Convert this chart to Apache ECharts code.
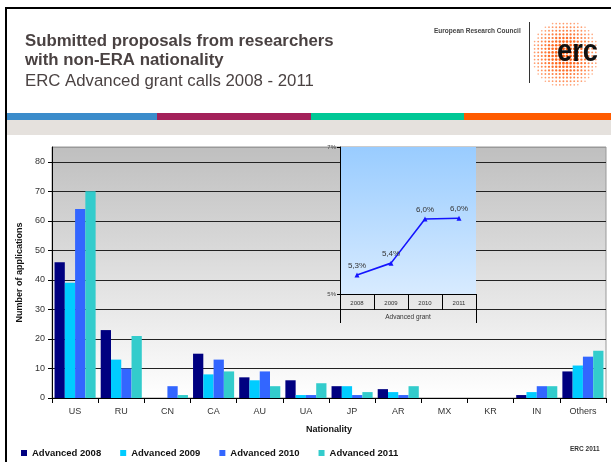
<!DOCTYPE html>
<html>
<head>
<meta charset="utf-8">
<script src="https://cdn.jsdelivr.net/npm/echarts@6/dist/echarts.min.js"></script>
<style>
html,body{margin:0;padding:0;background:#fff;}
#chart{width:611px;height:462px;}
</style>
</head>
<body>
<div id="chart"></div>
<script>
// ---- Data ----
var categories = ['US','RU','CN','CA','AU','UA','JP','AR','MX','KR','IN','Others'];
var seriesNames = ['Advanced 2008','Advanced 2009','Advanced 2010','Advanced 2011'];
var adv2008 = [46, 23, 0, 15, 7, 6, 4, 3, 0, 0, 1, 9];
var adv2009 = [39, 13, 0, 8, 6, 1, 4, 2, 0, 0, 2, 11];
var adv2010 = [64, 10, 4, 13, 9, 1, 1, 1, 0, 0, 4, 14];
var adv2011 = [70, 21, 1, 9, 4, 5, 2, 4, 0, 0, 4, 16];
var insetYears = ['2008','2009','2010','2011'];
var insetGroup = ['Advanced grant'];
var insetShare = [5.26, 5.42, 6.02, 6.03];
var barColors = ['#000080','#00ccff','#3366ff','#33cccc'];

var FONT = '"Liberation Sans", Arial, sans-serif';
var chart = echarts.init(document.getElementById('chart'), null, {renderer:'canvas'});

var barData = [adv2008, adv2009, adv2010, adv2011];
var series = barData.map(function(d, i){
  return {
    name: seriesNames[i], type: 'bar', xAxisIndex: 0, yAxisIndex: 0,
    data: d, barGap: '0%', barCategoryGap: '11%',
    itemStyle: {color: barColors[i]}, z: 2
  };
});
series.push({
  name: 'share', type: 'line', xAxisIndex: 1, yAxisIndex: 1,
  data: insetShare, z: 5,
  symbol: 'triangle', symbolSize: 5,
  lineStyle: {color: '#1414ff', width: 1.6},
  itemStyle: {color: '#1414ff'},
  label: {show: true, position: 'top', distance: 3, fontSize: 8, color: '#333', fontFamily: FONT,
    formatter: function(p){ return p.value.toFixed(1).replace('.', ',') + '%'; }}
});

// decorative logo: dotted halo
var logoDots = [];
(function(){
  var cx = 565, cy = 54, R = 34, step = 3.6;
  for (var y = cy - R; y <= cy + R; y += step) {
    for (var x = cx - R; x <= cx + R; x += step) {
      var d = Math.sqrt((x-cx)*(x-cx) + (y-cy)*(y-cy)) / R;
      if (d > 1) continue;
      var r = 1.6 * (1 - 0.5 * d);
      logoDots.push({type:'circle', silent:true, shape:{cx:x, cy:y, r:r},
        style:{fill:'#ff5a0a', opacity: 1 - 0.5 * d * d}});
    }
  }
})();

var graphics = [
    {type:'rect', shape:{x:5,y:7,width:606,height:2}, style:{fill:'#000'}, silent:true},
    {type:'rect', shape:{x:5,y:7,width:2,height:455}, style:{fill:'#000'}, silent:true},
    {type:'rect', shape:{x:7,y:113,width:150,height:7}, style:{fill:'#3b8ccb'}, silent:true},
    {type:'rect', shape:{x:157,y:113,width:154,height:7}, style:{fill:'#a3215a'}, silent:true},
    {type:'rect', shape:{x:311,y:113,width:153,height:7}, style:{fill:'#00c896'}, silent:true},
    {type:'rect', shape:{x:464,y:113,width:147,height:7}, style:{fill:'#ff5b00'}, silent:true},
    {type:'rect', shape:{x:7,y:120,width:604,height:15}, style:{fill:'#e5e1dd'}, silent:true},
    {type:'text', left: 434, top: 28, style:{text:'European Research Council', font: 'bold 6.5px ' + FONT, fill:'#444'}, silent:true},
    {type:'rect', shape:{x:529,y:22,width:1,height:61}, style:{fill:'#333'}, silent:true}
].concat(logoDots).concat([
    {type:'text', x: 557, y: 52, scaleX: 0.88, silent:true,
      style:{text:'erc', font: 'bold 31px ' + FONT, fill:'#111', verticalAlign:'middle', align:'left'}},
    {type:'text', left: 570, top: 446, style:{text:'ERC 2011', font: 'bold 6.5px ' + FONT, fill:'#333'}, silent:true}
]);

var option = {
  animation: false,
  textStyle: {fontFamily: FONT},
  title: {
    left: 25, top: 32,
    text: 'Submitted proposals from researchers\nwith non-ERA nationality',
    textStyle: {fontSize: 16.8, fontWeight: 'bold', color: '#4a4242', lineHeight: 19, fontFamily: FONT},
    subtext: 'ERC Advanced grant calls 2008 - 2011',
    subtextStyle: {fontSize: 16.8, color: '#4a4242', lineHeight: 19, fontFamily: FONT},
    itemGap: 2, padding: 0
  },
  legend: {
    data: seriesNames, left: 21, top: 448, icon: 'rect', itemWidth: 6, itemHeight: 6,
    itemGap: 19, padding: 0,
    textStyle: {fontSize: 9.5, fontWeight: 'bold', color: '#111', fontFamily: FONT}
  },
  graphic: graphics,
  grid: [
    {left: 52, right: 5, top: 147, bottom: 64, show: true, z: 0,
      backgroundColor: new echarts.graphic.LinearGradient(0,0,0,1,[
        {offset:0, color:'#bfbfbf'},{offset:1, color:'#ffffff'}]),
      borderColor: '#999', borderWidth: 1},
    {left: 340, top: 147, width: 136, height: 147, show: true, z: 3,
      backgroundColor: new echarts.graphic.LinearGradient(0,0,0,1,[
        {offset:0, color:'#99ccff'},{offset:1, color:'#d8ebff'}]),
      borderWidth: 0}
  ],
  xAxis: [
    {type:'category', gridIndex:0, data: categories,
      axisLine:{lineStyle:{color:'#000', width:1}},
      axisTick:{show:true, alignWithLabel:false, length:5, lineStyle:{color:'#000'}},
      axisLabel:{fontSize:9, color:'#333', margin:9},
      name:'Nationality', nameLocation:'middle', nameGap:27,
      nameTextStyle:{fontSize:9, fontWeight:'bold', color:'#111'}},
    {type:'category', gridIndex:1, data: insetYears, position:'bottom', offset:0, z:4,
      axisLine:{lineStyle:{color:'#000', width:1}},
      axisTick:{show:true, alignWithLabel:false, length:16, lineStyle:{color:'#000'}},
      axisLabel:{fontSize:6, color:'#333', margin:6}},
    {type:'category', gridIndex:1, data: insetGroup, position:'bottom', offset:0, z:4,
      axisLine:{show:false},
      axisTick:{show:true, alignWithLabel:false, length:29, lineStyle:{color:'#000'}},
      axisLabel:{fontSize:6.5, color:'#333', margin:20}}
  ],
  yAxis: [
    {type:'value', gridIndex:0, min:0, max:85, interval:10,
      axisLine:{show:true, lineStyle:{color:'#000'}},
      axisTick:{show:true, length:4, lineStyle:{color:'#000'}},
      axisLabel:{fontSize:9, color:'#333', margin:7, showMaxLabel:false},
      splitLine:{show:true, lineStyle:{color:['#222','#222','#222','#222','#222','#222','#222','#222','#222','#999'], width:1}},
      name:'Number of applications', nameLocation:'middle', nameGap:23,
      nameTextStyle:{fontSize:9, fontWeight:'bold', color:'#111'}},
    {type:'value', gridIndex:1, min:5, max:7, interval:2, z:4,
      axisLine:{show:true, lineStyle:{color:'#000'}},
      axisTick:{show:true, length:3, lineStyle:{color:'#000'}},
      axisLabel:{fontSize:6, color:'#444', margin:4, formatter:'{value}%'},
      splitLine:{show:false}}
  ],
  series: series
};
chart.setOption(option);
</script>
</body>
</html>
